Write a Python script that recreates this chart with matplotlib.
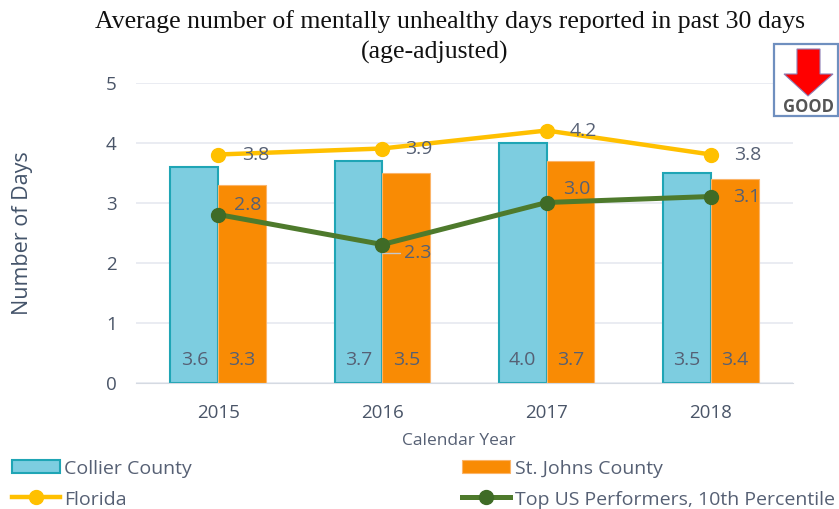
#!/usr/bin/env python3
"""Average mentally unhealthy days, county vs state vs top US performers."""
import matplotlib

matplotlib.use("Agg")
import matplotlib.pyplot as plt
from matplotlib.patches import Polygon, Rectangle
import numpy as np

years = ["2015", "2016", "2017", "2018"]
collier = [3.6, 3.7, 4.0, 3.5]
st_johns = [3.3, 3.5, 3.7, 3.4]
florida = [3.8, 3.9, 4.2, 3.8]
top_us = [2.8, 2.3, 3.0, 3.1]

W, H = 839, 510
TEXT = "#566074"
SANS = ["Open Sans", "DejaVu Sans"]

plt.rcParams["font.family"] = SANS

fig = plt.figure(figsize=(W / 100, H / 100), dpi=100)
# axes box from the pixel positions of the gridlines
ax = fig.add_axes([136 / W, 1 - 383.5 / H, (793 - 136) / W, 300 / H])

x = np.arange(len(years))
bar_w = 0.29
ax.bar(x - bar_w / 2, collier, bar_w, color="#7DCDE0", edgecolor="#1FA5B5", linewidth=1.5, label="Collier County", zorder=2)
ax.bar(x + bar_w / 2, st_johns, bar_w, color="#F98B04", edgecolor="#FBB469", linewidth=0.8, label="St. Johns County", zorder=2)
ax.plot(x, florida, color="#FFC000", lw=3.2, marker="o", ms=10, label="Florida", zorder=3)
ax.plot(x, top_us, color="#4E7A2C", lw=3.6, marker="o", ms=10, mfc="#3F6B26", mec="#3F6B26", label="Top US Performers, 10th Percentile", zorder=4)

ax.set_xlim(-0.5, 3.5)
ax.set_ylim(0, 5)
ax.set_yticks(range(6))
ax.set_xticks(x, years)
ax.grid(axis="y", color="#E6E9F0", lw=1.2, zorder=0)
ax.set_axisbelow(True)
ax.tick_params(length=0, labelsize=13.5, labelcolor="#4A5568")
ax.tick_params(axis="x", pad=15)
ax.tick_params(axis="y", pad=14)
for side in ["top", "right", "left"]:
    ax.spines[side].set_visible(False)
ax.spines["bottom"].set_color("#D5DAE2")

# value labels, offsets in pixels because each one sits somewhere different
for i in range(len(years)):
    ax.annotate(f"{collier[i]:.1f}", (x[i] - bar_w / 2, 0), xytext=(0, 23), textcoords="offset pixels", ha="center", va="center", fontsize=14, color=TEXT, zorder=5)
    ax.annotate(f"{st_johns[i]:.1f}", (x[i] + bar_w / 2, 0), xytext=(0, 23), textcoords="offset pixels", ha="center", va="center", fontsize=14, color=TEXT, zorder=5)

fl_off = [(24, 0), (23, 1), (23, 0), (23, 0)]
top_off = [(16, 11), (22, -8), (16, 14), (22, 1)]
for i in range(len(years)):
    ax.annotate(f"{florida[i]:.1f}", (x[i], florida[i]), xytext=fl_off[i], textcoords="offset pixels", ha="left", va="center", fontsize=14, color=TEXT, zorder=5)
    ax.annotate(f"{top_us[i]:.1f}", (x[i], top_us[i]), xytext=top_off[i], textcoords="offset pixels", ha="left", va="center", fontsize=14, color=TEXT, zorder=5)
# small leader line on the 2016 label
ax.annotate("", (x[1], top_us[1]), xytext=(20, -8), textcoords="offset pixels", arrowprops=dict(arrowstyle="-", color="#C4C8CE", lw=1, connectionstyle="angle,angleA=0,angleB=90,rad=0"), zorder=3)

fig.text(450 / W, 1 - 22 / H, "Average number of mentally unhealthy days reported in past 30 days", ha="center", va="center", fontsize=18.5, family="Liberation Serif", color="#111111")
fig.text(435 / W, 1 - 52 / H, "(age-adjusted)", ha="center", va="center", fontsize=18.5, family="Liberation Serif", color="#111111")
fig.text(23 / W, 1 - 233 / H, "Number of Days", rotation=90, ha="center", va="center", fontsize=15.5, color="#44546A")
fig.text(459 / W, 1 - 441 / H, "Calendar Year", ha="center", va="center", fontsize=12.5, color=TEXT)

handles, labels = ax.get_legend_handles_labels()
order = [2, 0, 3, 1]  # bars come last in the default handle order
leg = fig.legend(
    [handles[k] for k in order], [labels[k] for k in order], ncol=2, frameon=False,
    loc="lower left", bbox_to_anchor=(8 / W, -3 / H), borderaxespad=0, fontsize=14, labelcolor=TEXT,
    handlelength=2.45, handletextpad=0.25, columnspacing=13.9, labelspacing=0.65, borderpad=0.2,
)

# GOOD badge in pixel coordinates
overlay = fig.add_axes([0, 0, 1, 1], facecolor="none")
overlay.set_xlim(0, W)
overlay.set_ylim(H, 0)
overlay.axis("off")
overlay.add_patch(Rectangle((774, 45), 64, 72, facecolor="white", edgecolor="#6F8FBF", lw=1.6))
overlay.add_patch(Polygon(
    [(797, 50), (820, 50), (820, 75), (833, 75), (808, 97), (784, 75), (797, 75)],
    facecolor="#FF0000", edgecolor="#8E7FB5", lw=0.8,
))
overlay.text(808, 107, "GOOD", ha="center", va="center", fontsize=12, fontweight="bold", color="#555555")

fig.savefig("out.png", dpi=100)
